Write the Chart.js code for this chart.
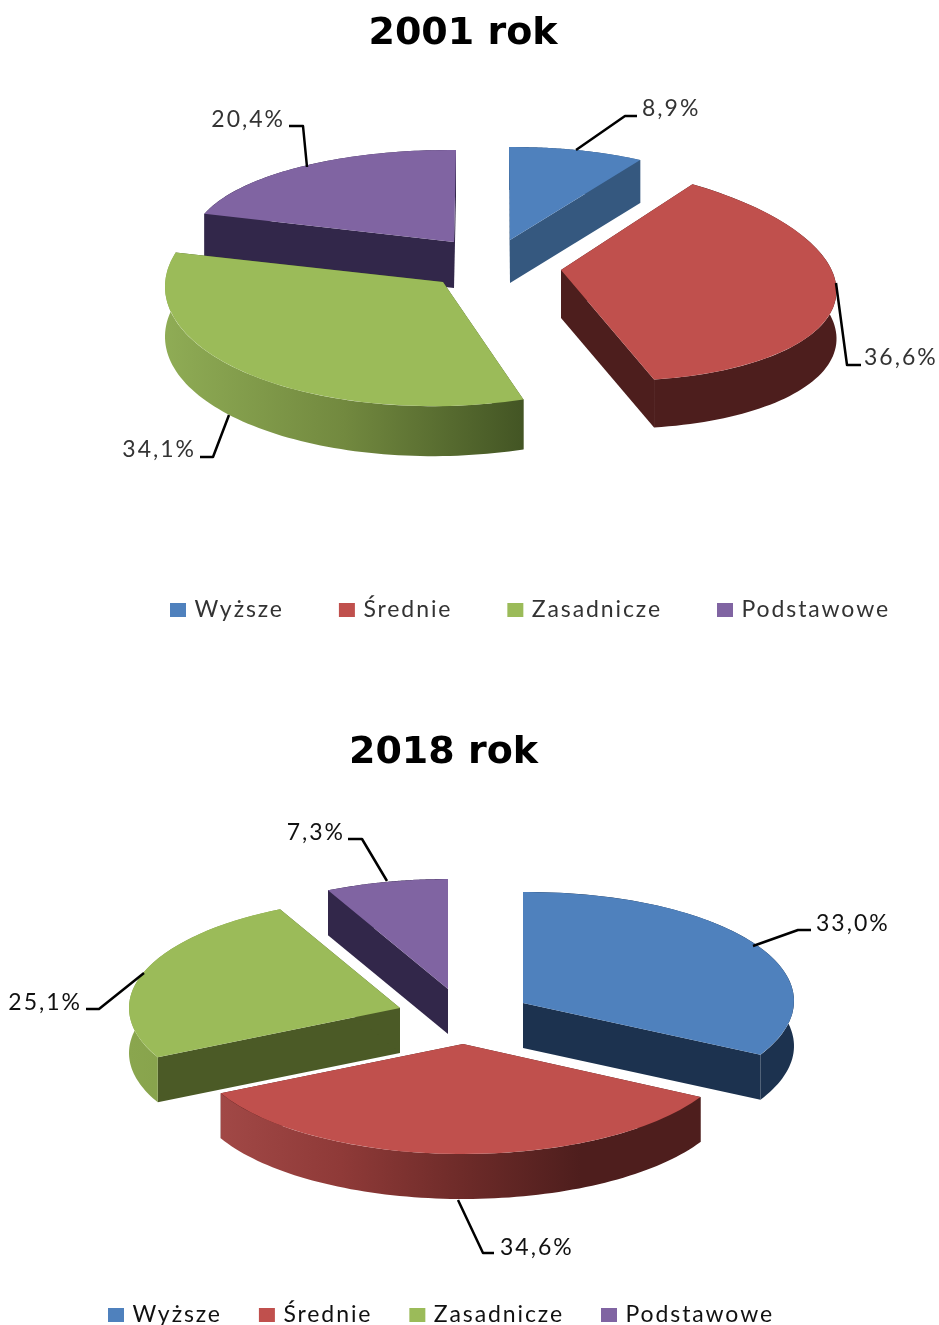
<!DOCTYPE html>
<html lang="pl">
<head>
<meta charset="utf-8">
<title>Wykształcenie 2001 i 2018</title>
<script src="https://cdn.jsdelivr.net/npm/chart.js@4"></script>
<style>
html,body{margin:0;padding:0;background:#fff}
body{position:relative;width:939px;height:1325px;overflow:hidden}
canvas{position:absolute;left:0;filter:blur(0.5px)}
#c2001{top:0}
#c2018{top:680px}
</style>
</head>
<body>
<canvas id="c2001"></canvas>
<canvas id="c2018"></canvas>
<script>
// ---- data ----
const categories = ['Wyższe', 'Średnie', 'Zasadnicze', 'Podstawowe'];
const values2001 = [8.9, 36.6, 34.1, 20.4];
const values2018 = [33.0, 34.6, 25.1, 7.3];
const titles = ['2001 rok', '2018 rok'];

// ---- styles ----
const topColors = ['#4f81bd', '#c0504d', '#9bbb59', '#8064a2'];
const R = 250;

// Per-slice 3D projection: origin (ox,oy), matrix a,b,c,d, extrusion depth,
// cut-face colour, wall gradient stops
const view2001 = {
  top: 0, order: [3, 0, 1, 2],
  title: {x: 463, y: 34},
  legend: {x: 170, y: 610, padding: 58, color: '#333333', ls: 1.9, size: 23},
  textColor: '#333333',
  slices: [
    {o: [510, 240], m: [247, 1, -2, 93],   depth: 43, cut: '#35587f', wall: ['#35587f', '#35587f']},
    {o: [561, 270], m: [275, 17, 14, 110], depth: 48, cut: '#4d1e1d', wall: ['#4d1e1d', '#4d1e1d']},
    {o: [443, 282], m: [278, 3, -6, 124],  depth: 50, cut: '#435524', wall: ['#8fac55', '#72893f', '#435524']},
    {o: [454, 242], m: [261, -2, 2, 92],   depth: 46, cut: '#32274a', wall: ['#32274a', '#32274a']}
  ],
  leaders: [
    {pts: [[576, 150], [625, 116], [637, 116]], text: [642, 109], align: 'left'},
    {pts: [[836, 283], [847, 365], [861, 365]], text: [864, 358], align: 'left'},
    {pts: [[229, 415], [213, 457], [200, 457]], text: [196, 450], align: 'right'},
    {pts: [[307, 167], [303, 126], [289, 126]], text: [285, 120], align: 'right'}
  ]
};
const view2018 = {
  top: 680, order: [3, 2, 0, 1],
  title: {x: 443.5, y: 753},
  legend: {x: 108, y: 1315, padding: 40, color: '#111111', ls: 1.9, size: 23},
  textColor: '#111111',
  slices: [
    {o: [523, 1003], m: [271, 0, -2, 111], depth: 45, cut: '#1c324f', wall: ['#1c324f', '#1c324f']},
    {o: [463, 1044], m: [271, 0, 0, 110],  depth: 45, cut: '#4e1e1d', wall: ['#a14846', '#8f3a38', '#6e2b29', '#4e1e1d', '#4e1e1d']},
    {o: [400, 1008], m: [271, 0, 0, 110],  depth: 45, cut: '#4b5a26', wall: ['#8aa64e', '#7f9a47']},
    {o: [448, 989],  m: [271, 0, 0, 110],  depth: 45, cut: '#32274a', wall: ['#32274a', '#32274a']}
  ],
  leaders: [
    {pts: [[753, 946], [798, 930], [811, 930]], text: [816, 924], align: 'left'},
    {pts: [[458, 1200], [483, 1253], [494, 1253]], text: [500, 1248], align: 'left'},
    {pts: [[144, 973], [99, 1009], [86, 1009]], text: [82, 1003], align: 'right'},
    {pts: [[387, 881], [362, 839], [348, 839]], text: [345, 833], align: 'right'}
  ]
};

const fmt = v => v.toFixed(1).replace('.', ',') + '%';

function projector(s) {
  const [ox, oy] = s.o, [a, b, c, d] = s.m;
  return ang => {
    const ux = Math.cos(ang), uy = Math.sin(ang);
    return [ox + a * ux + b * uy, oy + c * ux + d * uy];
  };
}

const pie3d = {
  id: 'pie3d',
  beforeLayout(chart) {
    chart.ctx.letterSpacing = chart.options.plugins.pie3d.view.legend.ls + 'px';
  },
  afterLayout(chart, _a, opts) {
    const v = opts.view, ctx = chart.ctx;
    const lg = chart.legend, t = chart.titleBlock;
    const pad = lg.options.labels.padding;
    const w = lg.width;
    lg.left = v.legend.x + 3 - pad;
    lg.right = lg.left + w;
    lg.top = v.legend.y - v.top - lg.options.labels.font.size / 2 - pad;
    lg.bottom = lg.top + lg.height;
    const lh = Chart.helpers.toFont(t.options.font).lineHeight;
    const th = t.height;
    t.left = v.title.x - 300;
    t.right = v.title.x + 300;
    t.top = v.title.y - v.top - lh / 2;
    t.bottom = t.top + th;
    if (!t._wrapped) {
      const draw = t.draw;
      t.draw = function () {
        ctx.save();
        ctx.letterSpacing = '0px';
        draw.call(this);
        ctx.restore();
      };
      t._wrapped = true;
    }
  },
  beforeDatasetDraw(chart, args, opts) {
    const v = opts.view, ctx = chart.ctx;
    const arcs = args.meta.data;
    ctx.save();
    ctx.translate(0, -v.top);
    v.order.forEach(i => {
      const arc = arcs[i], s = v.slices[i], p = projector(s);
      const a0 = arc.startAngle, a1 = arc.endAngle;
      const O = s.o, P0 = p(a0), P1 = p(a1);
      const dp = s.depth;
      // cut faces
      ctx.fillStyle = s.cut;
      [P0, P1].forEach(P => {
        ctx.beginPath();
        ctx.moveTo(O[0], O[1]);
        ctx.lineTo(P[0], P[1]);
        ctx.lineTo(P[0], P[1] + dp);
        ctx.lineTo(O[0], O[1] + dp);
        ctx.closePath();
        ctx.fill();
      });
      // outer wall, sampled along the library's arc angles
      const N = 80, pts = [];
      for (let k = 0; k <= N; k++) pts.push(p(a0 + (a1 - a0) * k / N));
      const xs = pts.map(q => q[0]);
      const g = ctx.createLinearGradient(Math.min(...xs), 0, Math.max(...xs), 0);
      s.wall.forEach((col, k) => g.addColorStop(k / (s.wall.length - 1), col));
      ctx.fillStyle = g;
      ctx.beginPath();
      pts.forEach((q, k) => k ? ctx.lineTo(q[0], q[1]) : ctx.moveTo(q[0], q[1]));
      for (let k = N; k >= 0; k--) ctx.lineTo(pts[k][0], pts[k][1] + dp);
      ctx.closePath();
      ctx.fill();
      // top face: the library's own arc element, through the projection
      ctx.save();
      ctx.translate(O[0], O[1]);
      ctx.transform(s.m[0] / R, s.m[2] / R, s.m[1] / R, s.m[3] / R, 0, 0);
      ctx.translate(-arc.x, -arc.y);
      arc.draw(ctx);
      ctx.restore();
    });
    ctx.restore();
    return false;
  },
  afterDraw(chart, _a, opts) {
    const v = opts.view, ctx = chart.ctx;
    const vals = chart.data.datasets[0].data;
    ctx.save();
    ctx.translate(0, -v.top);
    ctx.lineWidth = 2.5;
    ctx.strokeStyle = '#000';
    ctx.lineJoin = 'round';
    v.leaders.forEach((l, i) => {
      ctx.beginPath();
      l.pts.forEach((q, k) => k ? ctx.lineTo(q[0], q[1]) : ctx.moveTo(q[0], q[1]));
      ctx.stroke();
      ctx.font = '23px Lato';
      ctx.letterSpacing = '2px';
      ctx.fillStyle = v.textColor;
      ctx.textBaseline = 'middle';
      ctx.textAlign = 'left';
      const txt = fmt(vals[i]);
      const w = ctx.measureText(txt).width;
      const x = l.align === 'left' ? l.text[0] : l.text[0] - w;
      ctx.fillText(txt, x, l.text[1]);
    });
    ctx.restore();
  }
};

function build(id, values, title, view) {
  const el = document.getElementById(id);
  el.width = 939;
  el.height = (id === 'c2001') ? 680 : 645;
  el.style.width = '939px';
  el.style.height = el.height + 'px';
  return new Chart(el, {
    type: 'pie',
    data: {
      labels: categories,
      datasets: [{
        data: values,
        backgroundColor: topColors,
        borderWidth: 0,
        radius: R
      }]
    },
    options: {
      responsive: false,
      animation: false,
      plugins: {
        pie3d: {view},
        tooltip: {enabled: false},
        title: {
          display: true,
          text: title,
          color: '#000',
          padding: 0,
          font: {family: '"DejaVu Sans"', weight: 'bold', size: 38}
        },
        legend: {
          display: true,
          position: 'bottom',
          align: 'start',
          labels: {
            color: view.legend.color,
            padding: view.legend.padding,
            boxWidth: 10,
            boxHeight: 8,
            font: {family: 'Lato', size: view.legend.size},
            generateLabels(chart) {
              const base = Chart.overrides.pie.plugins.legend.labels.generateLabels(chart);
              return base.map(it => ({...it, strokeStyle: it.fillStyle, lineWidth: 6}));
            }
          }
        }
      }
    },
    plugins: [pie3d]
  });
}

build('c2001', values2001, titles[0], view2001);
build('c2018', values2018, titles[1], view2018);
</script>
</body>
</html>
